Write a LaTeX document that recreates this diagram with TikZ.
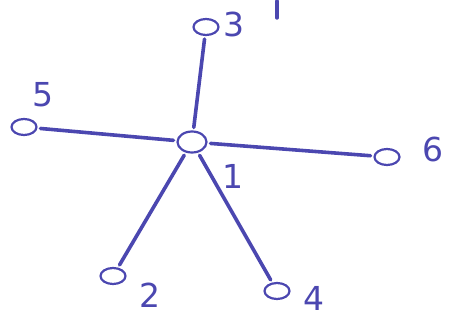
\documentclass[tikz,border=0pt]{standalone}
\usepackage{fontspec}
\setmainfont{DejaVu Sans}
\usetikzlibrary{shapes.geometric}
\definecolor{ink}{HTML}{4B47B0}
\tikzset{
  vert/.style={ellipse, draw=ink, line width=2.2pt, minimum width=25pt, minimum height=16pt, inner sep=0pt},
  lbl/.style={text=ink, font=\fontsize{33}{36}\selectfont, inner sep=0pt},
  edge/.style={draw=ink, line width=3.6pt, line cap=round, shorten <=3pt, shorten >=3pt}
}
\begin{document}
\begin{tikzpicture}[x=1pt,y=-1pt]
\useasboundingbox (0,0) rectangle (452,321);
\node[vert, minimum width=29pt, minimum height=21pt] (n1) at (192,142) {};
\node[vert] (n3) at (206,27) {};
\node[vert] (n5) at (24,127) {};
\node[vert] (n6) at (387,157) {};
\node[vert] (n2) at (113,276) {};
\node[vert] (n4) at (277,291) {};
\node[lbl] (l1) at (233,176) {1};
\node[lbl] (l3) at (234,24) {3};
\node[lbl] (l5) at (43,95) {5};
\node[lbl] (l6) at (433,149) {6};
\node[lbl] (l2) at (150,295) {2};
\node[lbl] (l4) at (314,298) {4};
\coordinate (m1) at (277,1);
\coordinate (m2) at (277,18);
\draw[ink, line width=3.4pt, line cap=round] (m1) -- (m2);
\draw[edge] (n1) -- (n3);
\draw[edge] (n1) -- (n5);
\draw[edge] (n1) -- (n6);
\draw[edge] (n1) -- (n2);
\draw[edge] (n1) -- (n4);
\end{tikzpicture}
\end{document}
